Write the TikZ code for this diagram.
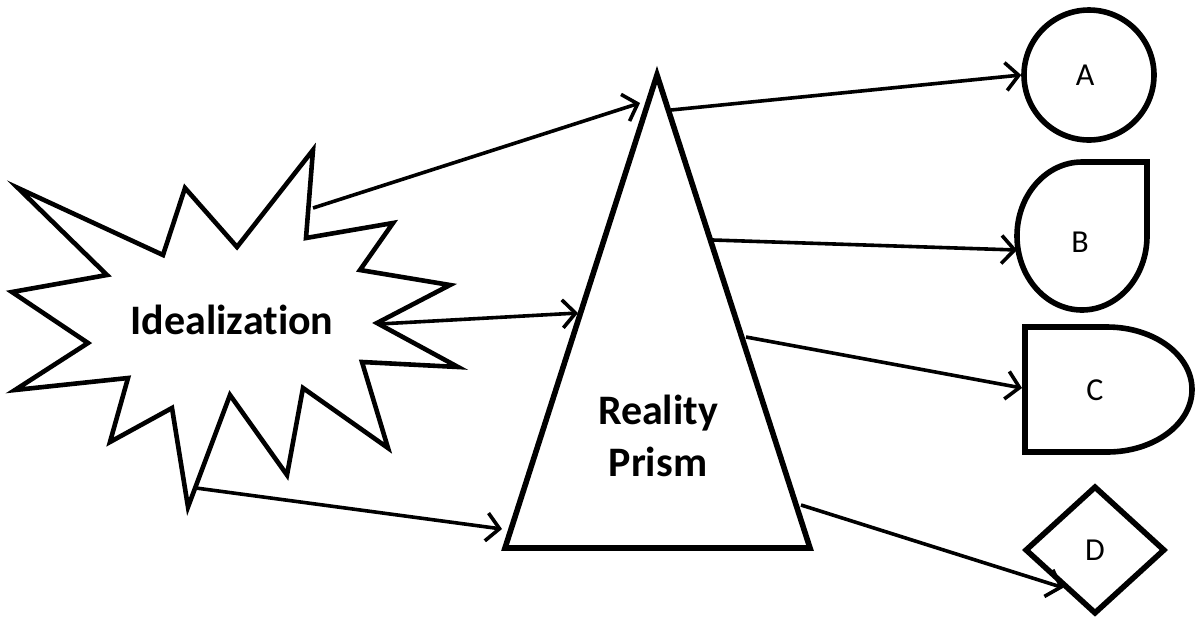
\documentclass[tikz,border=0pt]{standalone}
\usepackage{fontspec}
\setmainfont{Carlito}[Ligatures=NoCommon]
\usetikzlibrary{arrows.meta,shapes.geometric}
\tikzset{
  outline/.style = {draw=black,line width=2.8pt,line join=miter},
  burst/.style   = {draw=black,line width=2.3pt,line join=miter,fill=white},
  ray/.style     = {-{Straight Barb[length=6.5pt,width=14pt]},line width=1.8pt},
  biglbl/.style  = {font=\fontsize{21}{26}\selectfont\bfseries,align=center,
                    inner sep=0pt},
  lbl/.style     = {font=\fontsize{16}{19}\selectfont,inner sep=0pt},
}

\begin{document}
\begin{tikzpicture}[x=0.5pt,y=-0.5pt]
  \useasboundingbox (0,0) rectangle (1195,618);
  % star
  \draw[burst] (18,188) -- (163,255) -- (185,188) -- (237,247) -- (313,150)
    -- (306,238) -- (393,223) -- (360,270) -- (450,285) -- (377,323)
    -- (458,367) -- (362,362) -- (388,448) -- (303,388) -- (287,475)
    -- (230,395) -- (188,507) -- (172,408) -- (110,442) -- (128,378)
    -- (15,390) -- (88,343) -- (12,292) -- (107,275) -- cycle;
  \node[biglbl] (ideal) at (232,320) {Idealization};
  \coordinate (i1) at (313,208);
  \coordinate (i2) at (379,324);
  \coordinate (i3) at (196,488);
  % prism
  \draw[outline] (657,75) -- (810,548) -- (505,548) -- cycle;
  \node[biglbl] (prism) at (658,436) {Reality\\Prism};
  \coordinate (p1) at (640,103);
  \coordinate (p2) at (578,313);
  \coordinate (p3) at (502,529);
  \coordinate (q1) at (671,110);
  \coordinate (q2) at (713,240);
  \coordinate (q3) at (746,337);
  \coordinate (q4) at (801,505);
  % outcomes
  \node[outline,circle,minimum size=65pt,inner sep=0pt] (A) at (1089,75) {};
  \node[lbl] (la) at (1085,75) {A};
  \draw[outline] (1147,236) -- (1147,162) -- (1082,162)
    arc[start angle=90,end angle=360,x radius=32.5pt,y radius=37pt];
  \node[lbl] (B) at (1080,242) {B};
  \coordinate (bin) at (1017,250);
  \draw[outline] (1025,327) -- (1025,452) -- (1107,452)
    arc[start angle=-90,end angle=90,x radius=42.5pt,y radius=31.25pt] -- cycle;
  \node[lbl] (C) at (1095,390) {C};
  \coordinate (cin) at (1022,388);
  \node[outline,diamond,minimum width=70pt,minimum height=64pt,inner sep=0pt,
        lbl] (D) at (1095,550) {D};
  % rays
  \draw[ray] (i1) -- (p1);
  \draw[ray] (i2) -- (p2);
  \draw[ray] (i3) -- (p3);
  \draw[ray] (q1) -- (A.west);
  \draw[ray] (q2) -- (bin);
  \draw[ray] (q3) -- (cin);
  \draw[ray] (q4) -- (D.-130);
\end{tikzpicture}
\end{document}
